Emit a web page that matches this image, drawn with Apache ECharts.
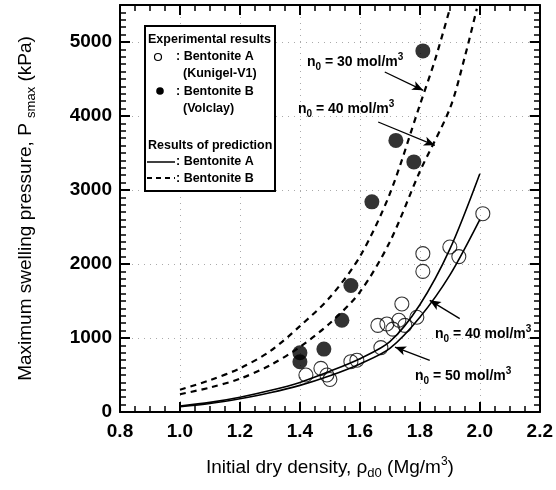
<!DOCTYPE html>
<html>
<head>
<meta charset="utf-8">
<script src="https://cdn.jsdelivr.net/npm/echarts@6/dist/echarts.min.js"></script>
<style>html,body{margin:0;padding:0;background:#fff;}#c{width:556px;height:490px;}</style>
</head>
<body>
<div id="c"></div>
<script>
// ---- data ----
const xTicks = [0.8, 1.0, 1.2, 1.4, 1.6, 1.8, 2.0, 2.2];
const yTicks = [0, 1000, 2000, 3000, 4000, 5000];

// Experimental: Bentonite A (Kunigel-V1), open circles
const expAx = [1.42, 1.47, 1.49, 1.50, 1.57, 1.59, 1.67, 1.66, 1.69, 1.71, 1.73, 1.75, 1.74, 1.79, 1.81, 1.81, 1.90, 1.93, 2.01];
const expAy = [500, 590, 500, 440, 680, 700, 870, 1170, 1190, 1120, 1240, 1170, 1460, 1280, 2140, 1900, 2230, 2100, 2680];
// Experimental: Bentonite B (Volclay), filled circles
const expBx = [1.40, 1.40, 1.48, 1.54, 1.57, 1.64, 1.72, 1.78, 1.81];
const expBy = [800, 680, 850, 1240, 1710, 2840, 3670, 3380, 4880];

// Prediction curves
const predAx = [1.0, 1.1, 1.2, 1.3, 1.4, 1.5, 1.6, 1.7, 1.8, 1.9, 2.0];
const predA40 = [80, 130, 200, 290, 400, 550, 720, 950, 1450, 2200, 3220];
const predA50 = [70, 115, 180, 260, 360, 490, 650, 860, 1280, 1850, 2600];
const predB30x = [1.0, 1.1, 1.2, 1.3, 1.4, 1.5, 1.6, 1.7, 1.8, 1.85, 1.9];
const predB30 = [300, 430, 590, 820, 1160, 1550, 2100, 2950, 4150, 4750, 5450];
const predB40x = [1.0, 1.1, 1.2, 1.3, 1.4, 1.5, 1.6, 1.7, 1.8, 1.9, 1.95, 1.99];
const predB40 = [240, 330, 450, 630, 880, 1200, 1620, 2300, 3250, 4100, 4800, 5450];

// Annotation arrows [from, to] in data coordinates
const arrows = [
  [[1.683, 4595], [1.811, 4347]],
  [[1.661, 3919], [1.850, 3604]],
  [[1.933, 1262], [1.833, 1509]],
  [[1.833, 699], [1.717, 878]]
];

const zip = (xs, ys) => xs.map((x, i) => [x, ys[i]]);
const FONT = '"Liberation Sans", Arial, Helvetica, sans-serif';

const chart = echarts.init(document.getElementById('c'), null, {renderer: 'canvas'});

const richAnn = {
  n: {fontSize: 14, fontWeight: 'bold', fontFamily: FONT, color: '#000', lineHeight: 20, verticalAlign: 'middle'},
  s: {fontSize: 10, fontWeight: 'bold', fontFamily: FONT, color: '#000', lineHeight: 20, verticalAlign: 'bottom'},
  p: {fontSize: 10, fontWeight: 'bold', fontFamily: FONT, color: '#000', lineHeight: 20, verticalAlign: 'top'}
};
function annText(x, y, val) {
  return {
    type: 'text', left: x, top: y, z: 100,
    style: {text: '{n|n}{s|0}{n| = ' + val + ' mol/m}{p|3}', rich: richAnn, fill: '#000'}
  };
}
const legFont = {fontSize: 12.5, fontWeight: 'bold', fontFamily: FONT, fill: '#000'};
function legText(x, y, t) {
  return {type: 'text', left: x, top: y, z: 100, style: Object.assign({text: t}, legFont)};
}

const GRID = {left: 120, right: 16, top: 5, bottom: 78};
const frameLine = () => ({show: true, onZero: false, lineStyle: {color: '#000', width: 2}});
const hiddenLine = () => ({show: true, onZero: false, lineStyle: {color: 'rgba(0,0,0,0)', width: 1}});
const majorTick = () => ({show: true, inside: true, length: 10, lineStyle: {color: '#000', width: 2}});
const minorTick = () => ({show: true, inside: true, length: 6, lineStyle: {color: '#000', width: 1.5}});
const nameRich = {
  a: {fontSize: 19, fontFamily: FONT, color: '#000', lineHeight: 24, verticalAlign: 'middle'},
  s: {fontSize: 13, fontFamily: FONT, color: '#000', lineHeight: 24, verticalAlign: 'bottom'},
  p: {fontSize: 12, fontFamily: FONT, color: '#000', lineHeight: 24, verticalAlign: 'top'}
};

const option = {
  animation: false,
  backgroundColor: '#fff',
  grid: [Object.assign({}, GRID), Object.assign({}, GRID)],
  xAxis: [{
    gridIndex: 0, type: 'value', min: 0.8, max: 2.2, interval: 0.2, position: 'bottom',
    axisLine: frameLine(), axisTick: majorTick(),
    axisLabel: {color: '#000', fontSize: 19, fontWeight: 'bold', fontFamily: FONT, margin: 10,
      formatter: v => v.toFixed(1)},
    splitLine: {show: true, lineStyle: {color: '#aaa', type: [1, 5], width: 1}},
    name: '{a|Initial dry density, ρ}{s|d0}{a| (Mg/m}{p|3}{a|)}',
    nameLocation: 'middle', nameGap: 44,
    nameTextStyle: {rich: nameRich}
  }, {
    gridIndex: 0, type: 'value', min: 0.8, max: 2.2, interval: 0.2, position: 'top',
    axisLine: frameLine(), axisTick: majorTick(),
    axisLabel: {show: false}, splitLine: {show: false}
  }, {
    gridIndex: 1, type: 'value', min: 0.8, max: 2.2, interval: 0.05, position: 'bottom',
    axisLine: hiddenLine(), axisTick: minorTick(),
    axisLabel: {show: false}, splitLine: {show: false}
  }, {
    gridIndex: 1, type: 'value', min: 0.8, max: 2.2, interval: 0.05, position: 'top',
    axisLine: hiddenLine(), axisTick: minorTick(),
    axisLabel: {show: false}, splitLine: {show: false}
  }],
  yAxis: [{
    gridIndex: 0, type: 'value', min: 0, max: 5500, interval: 1000, position: 'left',
    axisLine: frameLine(), axisTick: majorTick(),
    axisLabel: {color: '#000', fontSize: 19, fontWeight: 'bold', fontFamily: FONT, margin: 8,
      formatter: v => (yTicks.indexOf(v) >= 0 ? String(v) : '')},
    splitLine: {show: true, lineStyle: {color: '#aaa', type: [1, 5], width: 1}},
    name: '{a|Maximum swelling pressure, P }{s|smax}{a| (kPa)}',
    nameLocation: 'middle', nameGap: 82,
    nameTextStyle: {rich: nameRich}
  }, {
    gridIndex: 0, type: 'value', min: 0, max: 5500, interval: 1000, position: 'right',
    axisLine: frameLine(), axisTick: majorTick(),
    axisLabel: {show: false}, splitLine: {show: false}
  }, {
    gridIndex: 1, type: 'value', min: 0, max: 5500, interval: 100, position: 'left',
    axisLine: hiddenLine(), axisTick: minorTick(),
    axisLabel: {show: false}, splitLine: {show: false}
  }, {
    gridIndex: 1, type: 'value', min: 0, max: 5500, interval: 100, position: 'right',
    axisLine: hiddenLine(), axisTick: minorTick(),
    axisLabel: {show: false}, splitLine: {show: false}
  }],
  series: [
    {type: 'line', name: 'A n0=40', data: zip(predAx, predA40), smooth: 0.3, symbol: 'none',
      lineStyle: {color: '#000', width: 1.6}, z: 3},
    {type: 'line', name: 'A n0=50', data: zip(predAx, predA50), smooth: 0.3, symbol: 'none',
      lineStyle: {color: '#000', width: 1.6}, z: 3},
    {type: 'line', name: 'B n0=30', data: zip(predB30x, predB30), smooth: 0.3, symbol: 'none',
      lineStyle: {color: '#000', width: 2.2, type: [6, 5]}, z: 3},
    {type: 'line', name: 'B n0=40', data: zip(predB40x, predB40), smooth: 0.3, symbol: 'none',
      lineStyle: {color: '#000', width: 2.2, type: [6, 5]}, z: 3,
      markLine: {silent: true, symbol: ['none', 'arrow'], symbolSize: [7, 11],
        lineStyle: {color: '#000', width: 1.3, type: 'solid'}, label: {show: false},
        data: arrows.map(a => [{coord: a[0]}, {coord: a[1]}])}},
    {type: 'scatter', name: 'Bentonite A', data: zip(expAx, expAy), symbol: 'circle', symbolSize: 14,
      itemStyle: {color: 'rgba(255,255,255,0)', borderColor: '#000', borderWidth: 1.1}, z: 4},
    {type: 'scatter', name: 'Bentonite B', data: zip(expBx, expBy), symbol: 'circle', symbolSize: 15,
      itemStyle: {color: '#000'}, z: 4}
  ],
  graphic: [
    {type: 'rect', left: 144, top: 25, z: 90,
      shape: {width: 130, height: 165}, style: {fill: '#fff', stroke: '#000', lineWidth: 2}},
    legText(148, 33, 'Experimental results'),
    {type: 'circle', z: 100, shape: {cx: 158, cy: 57, r: 3.5}, style: {fill: '#fff', stroke: '#000', lineWidth: 1.2}},
    legText(176, 50, ': Bentonite A'),
    legText(183, 67, '(Kunigel-V1)'),
    {type: 'circle', z: 100, shape: {cx: 160, cy: 91, r: 3.8}, style: {fill: '#000'}},
    legText(176, 85, ': Bentonite B'),
    legText(183, 102, '(Volclay)'),
    legText(148, 139, 'Results of prediction'),
    {type: 'line', z: 100, shape: {x1: 147, y1: 162, x2: 175, y2: 162}, style: {stroke: '#000', lineWidth: 1.5}},
    legText(176, 155, ': Bentonite A'),
    {type: 'line', z: 100, shape: {x1: 147, y1: 178, x2: 175, y2: 178}, style: {stroke: '#000', lineWidth: 1.8, lineDash: [5, 4]}},
    legText(176, 172, ': Bentonite B'),
    annText(307, 52, 30),
    annText(298, 99, 40),
    annText(435, 324, 40),
    annText(415, 366, 50)
  ]
};
chart.setOption(option);
</script>
</body>
</html>
